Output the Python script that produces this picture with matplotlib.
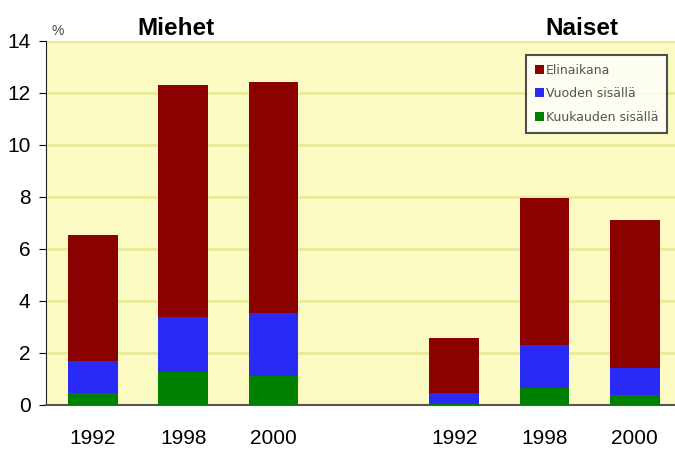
import matplotlib
matplotlib.use("Agg")
import matplotlib.pyplot as plt
import numpy as np

plt.rcParams['font.family'] = ['Liberation Sans', 'DejaVu Sans']

# cumulative prevalence (%)
years = ["1992", "1998", "2000", "1992", "1998", "2000"]
positions = [0, 1, 2, 4, 5, 6]
elinaikana = [6.55, 12.3, 12.42, 2.56, 7.95, 7.12]
vuoden = [1.68, 3.4, 3.52, 0.45, 2.3, 1.42]
kuukauden = [0.45, 1.25, 1.1, 0.05, 0.65, 0.37]

fig = plt.figure(figsize=(6.75, 4.5), dpi=100)
ax = fig.add_axes([0.068, 0.1, 0.95, 0.809])
ax.set_facecolor("#FAFAC2")

x = np.array(positions)
w = 0.55
ax.bar(x, kuukauden, w, color="#008000", label="Kuukauden sisällä", zorder=3)
ax.bar(x, np.array(vuoden) - np.array(kuukauden), w, bottom=kuukauden,
       color="#2A2AF5", label="Vuoden sisällä", zorder=3)
ax.bar(x, np.array(elinaikana) - np.array(vuoden), w, bottom=vuoden,
       color="#8B0000", label="Elinaikana", zorder=3)

ax.set_ylim(0, 14)
ax.set_yticks(range(0, 15, 2))
ax.set_xlim(-0.52, 6.58)
ax.set_xticks(positions)
ax.set_xticklabels(years)
ax.yaxis.grid(True, color="#EAEA9A", linewidth=2)
ax.set_axisbelow(True)

for s in ["top", "right"]:
    ax.spines[s].set_visible(False)
ax.spines["left"].set_color("#222222")
ax.spines["bottom"].set_color("#555555")
ax.spines["bottom"].set_linewidth(1.5)
ax.tick_params(axis="y", labelsize=15, length=5, direction="out", pad=6)
ax.tick_params(axis="x", labelsize=15, length=0, pad=17)

fig.text(0.085, 0.922, "%", fontsize=10, color="#444444", ha="center", va="baseline")
fig.text(0.261, 0.922, "Miehet", fontsize=17.5, fontweight="bold", ha="center", va="baseline")
fig.text(0.862, 0.922, "Naiset", fontsize=17.5, fontweight="bold", ha="center", va="baseline")

h, l = ax.get_legend_handles_labels()
leg = fig.legend(h[::-1], l[::-1], loc="upper right", bbox_to_anchor=(0.988, 0.878),
                 prop={"family": "DejaVu Sans", "size": 9},
                 frameon=True, fancybox=False, edgecolor="#222222",
                 handlelength=0.75, handleheight=0.75, handletextpad=0.1,
                 labelspacing=0.85, borderpad=0.7, borderaxespad=0)
leg.get_frame().set_linewidth(1.5)
for t in leg.get_texts():
    t.set_color("#555555")

fig.savefig("out.png", dpi=100)
